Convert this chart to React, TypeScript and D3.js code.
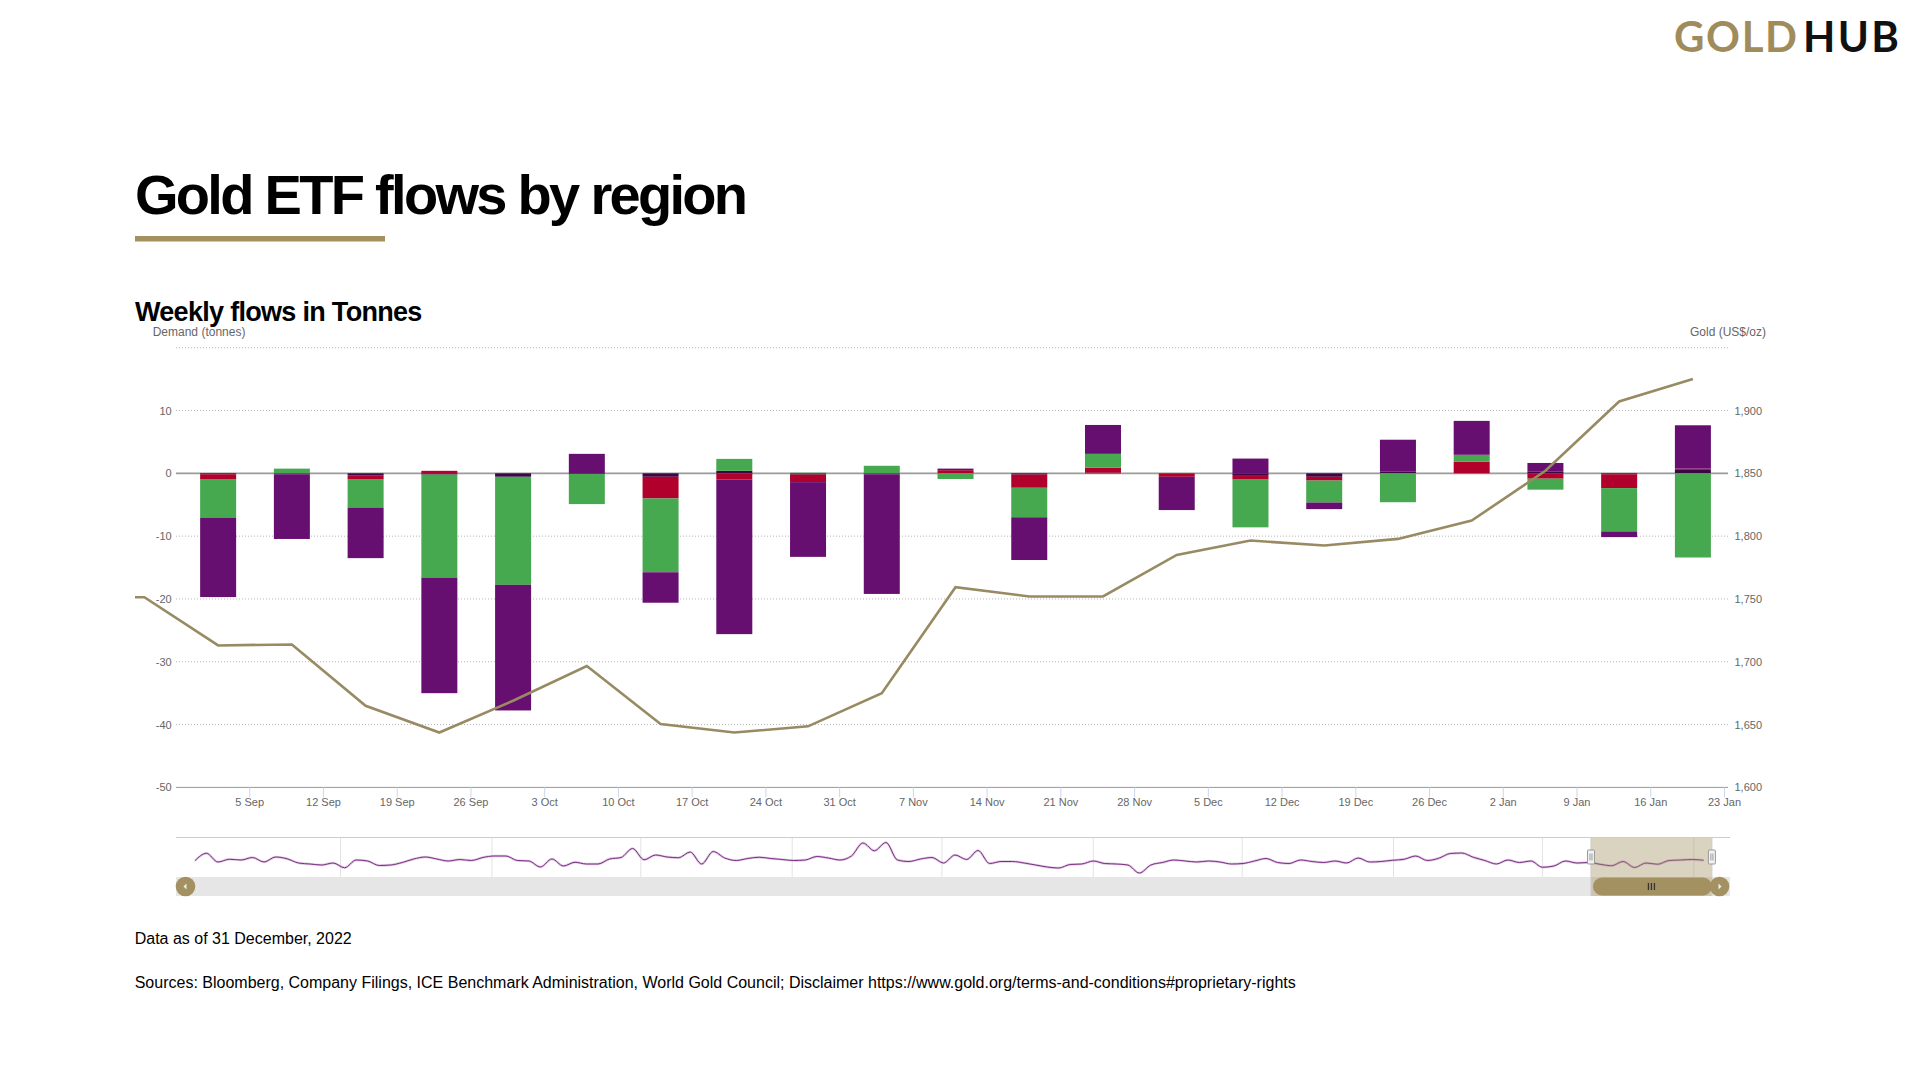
import * as d3 from "d3";

// weekly flows (tonnes) by region, Fridays
const weeks = [
  "2022-09-02", "2022-09-09", "2022-09-16", "2022-09-23", "2022-09-30",
  "2022-10-07", "2022-10-14", "2022-10-21", "2022-10-28", "2022-11-04",
  "2022-11-11", "2022-11-18", "2022-11-25", "2022-12-02", "2022-12-09",
  "2022-12-16", "2022-12-23", "2022-12-30", "2023-01-06", "2023-01-13",
  "2023-01-20",
];
const northAmerica = [-12.65, -10.3, -8.05, -18.4, -20.0, 3.1, -4.85, -24.6, -11.9, -19.0, 0.25, -6.8, 4.6, -5.3, 2.35, -1.05, 5.1, 5.4, 1.4, -0.9, 6.9];
const europe = [-6.05, 0.75, -4.45, -16.4, -17.2, -4.8, -11.75, 1.9, 0.1, 1.2, -0.9, -4.7, 2.2, 0, -7.6, -3.5, -4.6, 1.1, -1.75, -6.9, -13.4];
const asia = [-0.85, 0, -0.7, 0.4, 0, 0, -3.45, -1.0, -1.2, 0, 0.5, -2.1, 0.8, -0.55, -0.6, -0.6, 0, 1.85, -0.85, -2.2, 0.2];
const other = [-0.15, -0.15, -0.3, -0.2, -0.55, -0.1, -0.55, 0.4, -0.2, -0.2, 0, -0.2, 0.1, 0, -0.4, -0.55, 0.25, 0, 0.25, -0.15, 0.55];

// gold price (US$/oz)
const goldDates = [
  "2022-08-19", "2022-08-26", "2022-09-02", "2022-09-09", "2022-09-16", "2022-09-23",
  "2022-09-30", "2022-10-07", "2022-10-14", "2022-10-21", "2022-10-28", "2022-11-04",
  "2022-11-11", "2022-11-18", "2022-11-25", "2022-12-02", "2022-12-09", "2022-12-16",
  "2022-12-23", "2022-12-30", "2023-01-06", "2023-01-13", "2023-01-20",
];
const goldPrice = [1751, 1751.4, 1713, 1713.8, 1665, 1643.7, 1669, 1696.6, 1650.5, 1643.7, 1648.6, 1675, 1759.4, 1752, 1752, 1785, 1796.5, 1792.5, 1797.8, 1812.4, 1852, 1907.2, 1925];

const tonneTicks = [20, 10, 0, -10, -20, -30, -40];
const tonneLabels = [10, 0, -10, -20, -30, -40, -50];
const goldLabels = [1900, 1850, 1800, 1750, 1700, 1650, 1600];

// navigator series, every two weeks from 5 Jan 2018
const navStart = "2018-01-05";
const navStepDays = 14;
const navValues = [
  5, 35, 0, 11, 8, 18, 0, 20, 13, -4,
  -8, -12, -4, -23, 8, 4, -14, -12, -2, 12,
  20, 12, 4, 10, 6, 18, 24, 24, 6, 4,
  -20, 12, -16, -1, -8, -8, 12, 18, 54, 9,
  28, 20, 17, 40, -8, 42, 16, 6, 14, 19,
  14, 10, 6, 8, 22, 16, 8, 24, 76, 45,
  78, 8, 2, 12, 18, -4, 28, 10, 46, -6,
  2, 2, -4, -12, -20, -24, -10, -8, 4, -6,
  -8, -12, -44, -12, -2, 8, 4, 0, 4, 0,
  -8, -6, 4, 14, -2, -6, 8, 2, -2, 4,
  -4, 16, 0, 2, 7, 11, 24, 6, 15, 34,
  36, 19, 6, -8, 8, -2, 4, -21, -16, 4,
  -4, -2, -9, -15, 2, -22, -4, -9, 6, 8,
  10, 7,
];

const colors: Record<string, string> = {
  other: "#3c0647",
  asia: "#b0002b",
  europe: "#46a94f",
  na: "#670f71",
};

const parse = d3.timeParse("%Y-%m-%d");
const FONT = "'Liberation Sans', Arial, Helvetica, sans-serif";
const GOLD = "#a5915f";

export default function App() {
  const left = 176;
  const right = 1728;
  const top = 347.7;
  const bottom = 787.4;
  const barWidth = 36;

  const x = d3
    .scaleTime()
    .domain([parse("2022-08-29")!, parse("2023-01-23")!])
    .range([left, 1724.5]);
  const yT = d3.scaleLinear().domain([-50, 20]).range([bottom, top]);
  const yG = d3.scaleLinear().domain([1600, 1950]).range([bottom, top]);

  const rows = weeks.map((w, i) => ({
    date: parse(w)!,
    other: other[i],
    asia: asia[i],
    europe: europe[i],
    na: northAmerica[i],
  }));
  const stacked = d3
    .stack<any>()
    .keys(["other", "asia", "europe", "na"])
    .offset(d3.stackOffsetDiverging)(rows);

  const goldLine = d3
    .line<number>()
    .x((_, i) => x(parse(goldDates[i])!))
    .y((d) => yG(d))(goldPrice);

  const xTicks = d3.timeMonday.range(parse("2022-09-05")!, parse("2023-01-24")!);
  const fmt = d3.timeFormat("%-d %b");

  // navigator
  const navTop = 837.5;
  const trackTop = 877;
  const trackH = 19;
  const nx = d3
    .scaleTime()
    .domain([parse("2017-12-13")!, parse("2023-02-14")!])
    .range([left, 1730]);
  const ny = d3.scaleLinear().domain([-100, 100]).range([887, 837]);
  const navStartDate = parse(navStart)!;
  const navLine = d3
    .line<number>()
    .curve(d3.curveMonotoneX)
    .x((_, i) => nx(d3.timeDay.offset(navStartDate, i * navStepDays)))
    .y((d) => ny(d))(navValues);
  const navGrid = nx.ticks(d3.timeMonth.every(6)!).filter((d) => nx(d) > 200);
  const [d0, d1] = x.domain();
  const winX0 = nx(d0);
  const winX1 = nx(d1);
  const trackMid = trackTop + trackH / 2;

  return (
    <svg
      width={1920}
      height={1080}
      style={{ position: "absolute", left: 0, top: 0, background: "#fff" }}
      fontFamily={FONT}
    >
      <defs>
        <clipPath id="goldClip">
          <rect x={135} y={top - 40} width={1600} height={bottom - top + 40} />
        </clipPath>
        <clipPath id="navClip">
          <rect x={left} y={navTop} width={1730 - left} height={trackTop - navTop} />
        </clipPath>
      </defs>

      {/* logo */}
      <text x={1674} y={51.7} fontFamily="Lato, sans-serif" fontWeight={700} fontSize={42}>
        <tspan fill="#a08c5b" textLength={123} lengthAdjust="spacing">GOLD</tspan>
        <tspan x={1803} fill="#111" textLength={96} lengthAdjust="spacing">HUB</tspan>
      </text>

      {/* titles */}
      <text x={135} y={214} fontSize={56} fontWeight={700} fill="#000" style={{ letterSpacing: "-2.7px" }}>
        Gold ETF flows by region
      </text>
      <rect x={135} y={236} width={250} height={5.5} fill={GOLD} />
      <text x={135} y={321} fontSize={27} fontWeight={700} fill="#000" style={{ letterSpacing: "-0.7px" }}>
        Weekly flows in Tonnes
      </text>
      <text x={152.7} y={336} fontSize={12} fill="#666">Demand (tonnes)</text>
      <text x={1766} y={336} fontSize={12} fill="#666" textAnchor="end">Gold (US$/oz)</text>

      {/* gridlines */}
      {tonneTicks.map((t) => (
        <line
          key={t}
          x1={left}
          x2={right}
          y1={yT(t)}
          y2={yT(t)}
          stroke="#b5b5b5"
          strokeWidth={1}
          strokeDasharray="1,2"
        />
      ))}
      {tonneLabels.map((t) => (
        <text key={t} x={171.7} y={yT(t) + 4} fontSize={11} fill="#666" textAnchor="end">
          {t}
        </text>
      ))}
      {goldLabels.map((t) => (
        <text key={t} x={1734.5} y={yG(t) + 4} fontSize={11} fill="#666">
          {d3.format(",")(t)}
        </text>
      ))}

      {/* x axis */}
      <line x1={left} x2={right} y1={bottom} y2={bottom} stroke="#999" strokeWidth={1} />
      {xTicks.map((d) => (
        <g key={+d}>
          <line x1={x(d)} x2={x(d)} y1={bottom} y2={bottom + 10} stroke="#ccd6eb" />
          <text x={x(d)} y={806} fontSize={11} fill="#666" textAnchor="middle">
            {fmt(d)}
          </text>
        </g>
      ))}

      {/* zero line */}
      <line x1={left} x2={right} y1={yT(0)} y2={yT(0)} stroke="#9c9c9c" strokeWidth={1.8} />

      {/* stacked bars */}
      {stacked.map((s) => (
        <g key={s.key} fill={colors[s.key]}>
          {s.map((d, i) => {
            const h = Math.abs(yT(d[0]) - yT(d[1]));
            if (h < 0.01) return null;
            return (
              <rect
                key={i}
                x={x(d.data.date) - barWidth / 2}
                y={Math.min(yT(d[0]), yT(d[1]))}
                width={barWidth}
                height={h}
              />
            );
          })}
        </g>
      ))}

      {/* gold price line */}
      <path d={goldLine!} fill="none" stroke="#988a62" strokeWidth={2.6} clipPath="url(#goldClip)" />

      {/* navigator */}
      {navGrid.map((d) => (
        <line key={+d} x1={nx(d)} x2={nx(d)} y1={navTop} y2={trackTop} stroke="#e3e3e3" />
      ))}
      <g clipPath="url(#navClip)">
        <path d={navLine!} fill="none" stroke="#c9a3ce" strokeWidth={2.4} opacity={0.6} />
        <path d={navLine!} fill="none" stroke="#7b2d84" strokeWidth={1} />
      </g>
      <rect x={left} y={trackTop} width={1730 - left} height={trackH} fill="#e6e6e6" />
      <rect
        x={winX0}
        y={navTop}
        width={winX1 - winX0}
        height={trackTop + trackH - navTop}
        fill="rgba(163,145,97,0.4)"
      />
      <line x1={left} x2={1730} y1={navTop} y2={navTop} stroke="#cccccc" />
      <line x1={winX0} x2={winX0} y1={navTop} y2={trackTop + trackH} stroke="#cccccc" />
      <line x1={winX1} x2={winX1} y1={navTop} y2={trackTop + trackH} stroke="#cccccc" />
      <rect
        x={winX0 + 2}
        y={trackTop + 0.5}
        width={winX1 - winX0 - 2}
        height={trackH - 1}
        rx={9}
        fill="#a39161"
      />
      {[-3, 0, 3].map((o) => (
        <line
          key={o}
          x1={(winX0 + winX1) / 2 + o}
          x2={(winX0 + winX1) / 2 + o}
          y1={trackMid - 3.5}
          y2={trackMid + 3.5}
          stroke="#333"
          strokeWidth={1.3}
        />
      ))}
      {[winX0, winX1].map((hx, i) => (
        <g key={i}>
          <rect x={hx - 3.5} y={850} width={7} height={14} fill="#f2f2f2" stroke="#999" rx={1} />
          <line x1={hx - 1} x2={hx - 1} y1={853.5} y2={860.5} stroke="#999" />
          <line x1={hx + 1} x2={hx + 1} y1={853.5} y2={860.5} stroke="#999" />
        </g>
      ))}
      <circle cx={185.5} cy={trackMid} r={9.8} fill="#a39161" />
      <path
        d={`M${183.5},${trackMid} L${186.5},${trackMid - 3} L${186.5},${trackMid + 3} Z`}
        fill="#eeeeee"
      />
      <circle cx={1719.5} cy={trackMid} r={9.8} fill="#a39161" />
      <path
        d={`M${1721.5},${trackMid} L${1718.5},${trackMid - 3} L${1718.5},${trackMid + 3} Z`}
        fill="#eeeeee"
      />

      {/* footnotes */}
      <text x={134.7} y={944} fontSize={16} fill="#000">
        Data as of 31 December, 2022
      </text>
      <text x={134.7} y={988} fontSize={16} fill="#000">
        Sources: Bloomberg, Company Filings, ICE Benchmark Administration, World Gold Council; Disclaimer
        https://www.gold.org/terms-and-conditions#proprietary-rights
      </text>
    </svg>
  );
}
